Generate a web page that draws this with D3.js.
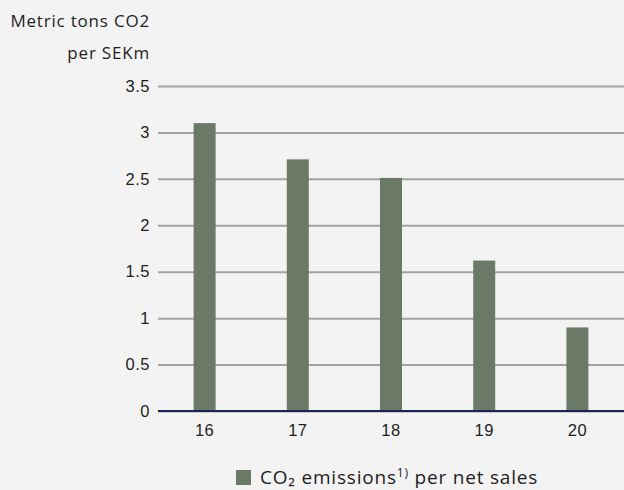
<!DOCTYPE html>
<html>
<head>
<meta charset="utf-8">
<script src="https://cdn.jsdelivr.net/npm/d3@7/dist/d3.min.js"></script>
<style>
  html, body { margin: 0; padding: 0; background: #f3f3f3; }
  svg { display: block; font-family: "Open Sans", "Noto Sans", sans-serif; }
</style>
</head>
<body>
<svg id="chart" width="624" height="490"></svg>
<script>
// CO2 emissions per net sales, metric tons per SEKm
const years = ["16", "17", "18", "19", "20"];
const emissions = [3.1, 2.71, 2.51, 1.62, 0.9];
const yTicks = [0, 0.5, 1, 1.5, 2, 2.5, 3, 3.5];
const yTickLabels = ["0", "0.5", "1", "1.5", "2", "2.5", "3", "3.5"];

const svg = d3.select("#chart");
const W = 624, H = 490;
const margin = { left: 158, right: 0, top: 86, bottom: 79 };
const plotBottom = H - margin.bottom;

const x = d3.scaleBand()
  .domain(years)
  .range([margin.left, W - margin.right])
  .paddingInner(0.764)
  .paddingOuter(0.382);

const y = d3.scaleLinear()
  .domain([0, 3.5])
  .range([plotBottom, margin.top]);

const textColor = "#1e1e1e";
const barColor = "#6b7a66";

// Horizontal grid lines and y tick labels
const yAxis = d3.axisLeft(y)
  .tickValues(yTicks)
  .tickFormat((d, i) => yTickLabels[i])
  .tickSize(-(W - margin.left - margin.right))
  .tickPadding(8);

const gy = svg.append("g")
  .attr("transform", `translate(${margin.left},0)`)
  .call(yAxis);
gy.select(".domain").remove();
gy.selectAll(".tick line")
  .attr("stroke", "#a3a3a3")
  .attr("stroke-width", 2);
gy.selectAll(".tick text")
  .attr("fill", textColor)
  .attr("font-size", 16.5)
  .attr("letter-spacing", 0.5);

// Bars
svg.append("g")
  .selectAll("rect")
  .data(emissions)
  .join("rect")
  .attr("x", (d, i) => x(years[i]))
  .attr("width", x.bandwidth())
  .attr("y", d => y(d))
  .attr("height", d => y(0) - y(d))
  .attr("fill", barColor);

// Baseline
svg.append("line")
  .attr("x1", margin.left)
  .attr("x2", W - margin.right)
  .attr("y1", y(0))
  .attr("y2", y(0))
  .attr("stroke", "#1b2452")
  .attr("stroke-width", 2);

// X axis labels
const xAxis = d3.axisBottom(x).tickSize(0).tickPadding(13);
const gx = svg.append("g")
  .attr("transform", `translate(0,${plotBottom})`)
  .call(xAxis);
gx.select(".domain").remove();
gx.selectAll(".tick text")
  .attr("fill", textColor)
  .attr("font-size", 16.5)
  .attr("letter-spacing", 0.5);

// Unit title
const title = svg.append("text")
  .attr("text-anchor", "end")
  .attr("fill", textColor)
  .attr("font-size", 17)
  .attr("letter-spacing", 0.8);
title.append("tspan").attr("x", 150).attr("y", 27).text("Metric tons CO2");
title.append("tspan").attr("x", 150).attr("y", 59).text("per SEKm");

// Legend
const legend = svg.append("g").attr("transform", "translate(236,470)");
legend.append("rect")
  .attr("width", 15).attr("height", 15)
  .attr("fill", barColor);
const lt = legend.append("text")
  .attr("x", 24).attr("y", 14)
  .attr("fill", textColor)
  .attr("font-size", 19)
  .attr("letter-spacing", 0.8);
lt.append("tspan").text("CO₂ emissions");
lt.append("tspan").attr("font-size", 12).attr("dy", -7).text("1)");
lt.append("tspan").attr("dy", 7).text(" per net sales");
</script>
</body>
</html>
